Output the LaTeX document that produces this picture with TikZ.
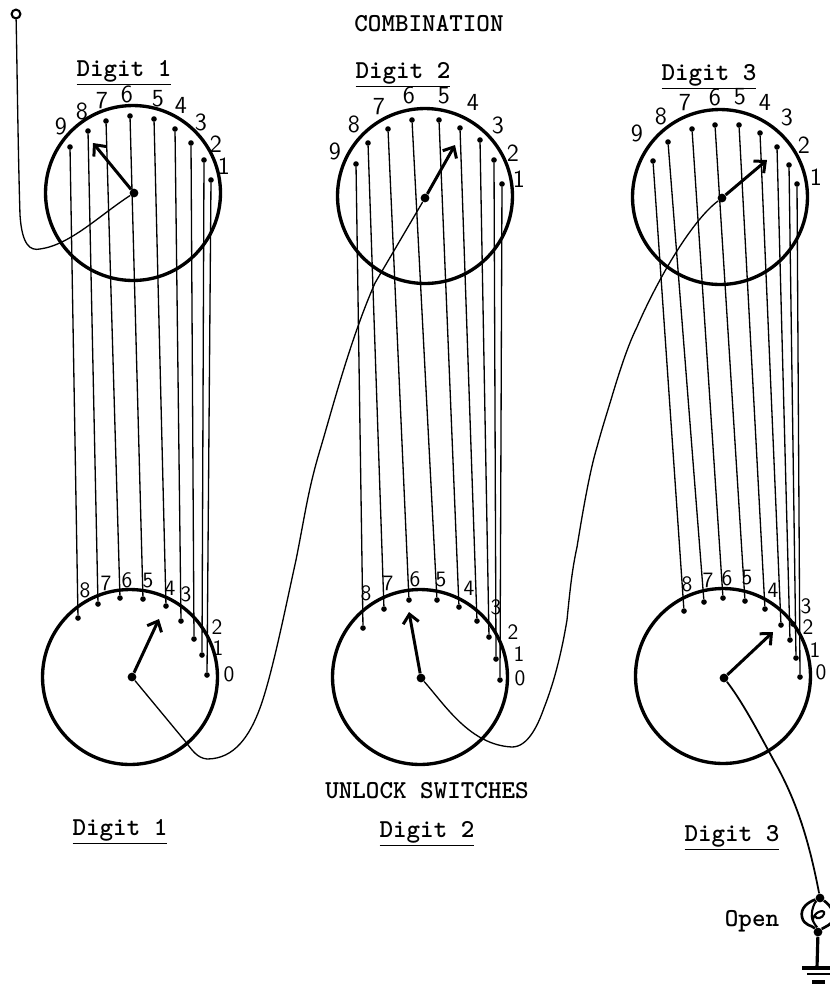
\documentclass[tikz,border=0pt]{standalone}
\usepackage{tikz}
\usetikzlibrary{arrows.meta}
\tikzset{
    dial/.style = {draw, circle, line width = 1.9pt, minimum size = 3.5cm, inner sep = 0pt},
    hub/.style = {fill = black, circle, minimum size = 5pt, inner sep = 0pt},
    contact/.style = {fill = black, circle, minimum size = 3.2pt, inner sep = 0pt},
    wire/.style = {line width = 0.75pt},
    hand/.style = {line width = 1.7pt, -{Straight Barb[length = 5pt, width = 9pt]}},
    digit/.style = {font = \sffamily\fontsize{12.5}{14}\selectfont, inner sep = 0pt},
    bigdigit/.style = {font = \sffamily\fontsize{14}{16}\selectfont, inner sep = 0pt},
    title/.style = {font = \ttfamily\bfseries\fontsize{14.7}{16}\selectfont, inner sep = 0pt}
}

\begin{document}
\begin{tikzpicture}[x = 0.02cm, y = -0.02cm]
    \useasboundingbox (0,0) rectangle (830,985);

    % titles
    \node[title] (combination) at (429, 24) {COMBINATION};
    \node[title] (unlock) at (427, 791) {UNLOCK SWITCHES};
    \node[title] (titleTA) at (124, 73) {\underline{Digit 1}};
    \node[title] (titleTB) at (403, 75) {\underline{Digit 2}};
    \node[title] (titleTC) at (709, 77) {\underline{Digit 3}};
    \node[title] (titleBA) at (120, 832) {\underline{Digit 1}};
    \node[title] (titleBB) at (427, 834) {\underline{Digit 2}};
    \node[title] (titleBC) at (732, 838) {\underline{Digit 3}};
    \node[title] (open) at (752, 921) {Open};

    % dials
    \node[dial] (dialTA) at (133, 193) {};
    \node[dial] (dialTB) at (425, 196) {};
    \node[dial] (dialTC) at (720, 197) {};
    \node[dial] (dialBA) at (130, 677) {};
    \node[dial] (dialBB) at (420, 677) {};
    \node[dial] (dialBC) at (723, 676) {};
    \node[hub] (hubTA) at (134, 193) {};
    \node[hub] (hubTB) at (425, 198) {};
    \node[hub] (hubTC) at (722, 198) {};
    \node[hub] (hubBA) at (132, 677) {};
    \node[hub] (hubBB) at (421, 678) {};
    \node[hub] (hubBC) at (724, 678) {};

    % pointers
    \coordinate (tipTA) at (93, 143);
    \coordinate (tipTB) at (455, 145);
    \coordinate (tipTC) at (767, 160);
    \coordinate (tipBA) at (159, 619);
    \coordinate (tipBB) at (409, 612);
    \coordinate (tipBC) at (773, 632);
    \draw[hand] (hubTA) -- (tipTA);
    \draw[hand] (hubTB) -- (tipTB);
    \draw[hand] (hubTC) -- (tipTC);
    \draw[hand] (hubBA) -- (tipBA);
    \draw[hand] (hubBB) -- (tipBB);
    \draw[hand] (hubBC) -- (tipBC);

    % contacts, combination digit 1
    \node[contact] (tA9) at (70, 147) {};
    \node[contact] (tA8) at (88, 131) {};
    \node[contact] (tA7) at (106, 121) {};
    \node[contact] (tA6) at (130, 116) {};
    \node[contact] (tA5) at (154, 119) {};
    \node[contact] (tA4) at (175, 129) {};
    \node[contact] (tA3) at (191, 143) {};
    \node[contact] (tA2) at (204, 160) {};
    \node[contact] (tA1) at (211, 180) {};
    \node[bigdigit] (ltA9) at (61, 126) {9};
    \node[bigdigit] (ltA8) at (82, 111) {8};
    \node[bigdigit] (ltA7) at (102, 101) {7};
    \node[bigdigit] (ltA6) at (127, 94) {6};
    \node[bigdigit] (ltA5) at (158, 99) {5};
    \node[bigdigit] (ltA4) at (181, 105) {4};
    \node[bigdigit] (ltA3) at (201, 122) {3};
    \node[bigdigit] (ltA2) at (216, 144) {2};
    \node[bigdigit] (ltA1) at (224, 166) {1};

    % contacts, combination digit 2
    \node[contact] (tB9) at (356, 164) {};
    \node[contact] (tB8) at (368, 143) {};
    \node[contact] (tB7) at (388, 129) {};
    \node[contact] (tB6) at (412, 120) {};
    \node[contact] (tB5) at (439, 120) {};
    \node[contact] (tB4) at (460, 128) {};
    \node[contact] (tB3) at (480, 140) {};
    \node[contact] (tB2) at (494, 160) {};
    \node[contact] (tB1) at (502, 184) {};
    \node[bigdigit] (ltB9) at (335, 151) {9};
    \node[bigdigit] (ltB8) at (354, 124) {8};
    \node[bigdigit] (ltB7) at (379, 107) {7};
    \node[bigdigit] (ltB6) at (409, 95) {6};
    \node[bigdigit] (ltB5) at (444, 96) {5};
    \node[bigdigit] (ltB4) at (473, 102) {4};
    \node[bigdigit] (ltB3) at (498, 125) {3};
    \node[bigdigit] (ltB2) at (513, 153) {2};
    \node[bigdigit] (ltB1) at (519, 179) {1};

    % contacts, combination digit 3
    \node[contact] (tC9) at (653, 161) {};
    \node[contact] (tC8) at (668, 142) {};
    \node[contact] (tC7) at (692, 129) {};
    \node[contact] (tC6) at (715, 125) {};
    \node[contact] (tC5) at (739, 125) {};
    \node[contact] (tC4) at (760, 133) {};
    \node[contact] (tC3) at (777, 147) {};
    \node[contact] (tC2) at (789, 165) {};
    \node[contact] (tC1) at (797, 184) {};
    \node[bigdigit] (ltC9) at (637, 133) {9};
    \node[bigdigit] (ltC8) at (661, 116) {8};
    \node[bigdigit] (ltC7) at (685, 103) {7};
    \node[bigdigit] (ltC6) at (715, 97) {6};
    \node[bigdigit] (ltC5) at (740, 97) {5};
    \node[bigdigit] (ltC4) at (765, 102) {4};
    \node[bigdigit] (ltC3) at (787, 117) {3};
    \node[bigdigit] (ltC2) at (804, 145) {2};
    \node[bigdigit] (ltC1) at (816, 177) {1};

    % contacts, unlock digit 1
    \node[contact] (bA8) at (78, 618) {};
    \node[contact] (bA7) at (98, 604) {};
    \node[contact] (bA6) at (120, 598) {};
    \node[contact] (bA5) at (143, 599) {};
    \node[contact] (bA4) at (166, 606) {};
    \node[contact] (bA3) at (181, 621) {};
    \node[contact] (bA2) at (194, 639) {};
    \node[contact] (bA1) at (202, 655) {};
    \node[contact] (bA0) at (207, 675) {};
    \node[digit] (lbA8) at (85, 590) {8};
    \node[digit] (lbA7) at (106, 583) {7};
    \node[digit] (lbA6) at (127, 580) {6};
    \node[digit] (lbA5) at (148, 581) {5};
    \node[digit] (lbA4) at (170, 588) {4};
    \node[digit] (lbA3) at (186, 594) {3};
    \node[digit] (lbA2) at (217, 627) {2};
    \node[digit] (lbA1) at (218, 648) {1};
    \node[digit] (lbA0) at (229, 674) {0};

    % contacts, unlock digit 2
    \node[contact] (bB8) at (363, 628) {};
    \node[contact] (bB7) at (384, 609) {};
    \node[contact] (bB6) at (409, 600) {};
    \node[contact] (bB5) at (437, 600) {};
    \node[contact] (bB4) at (459, 607) {};
    \node[contact] (bB3) at (477, 621) {};
    \node[contact] (bB2) at (489, 637) {};
    \node[contact] (bB1) at (496, 659) {};
    \node[contact] (bB0) at (500, 680) {};
    \node[digit] (lbB8) at (366, 593) {8};
    \node[digit] (lbB7) at (388, 583) {7};
    \node[digit] (lbB6) at (415, 579) {6};
    \node[digit] (lbB5) at (441, 580) {5};
    \node[digit] (lbB4) at (469, 588) {4};
    \node[digit] (lbB3) at (496, 607) {3};
    \node[digit] (lbB2) at (513, 632) {2};
    \node[digit] (lbB1) at (519, 654) {1};
    \node[digit] (lbB0) at (520, 678) {0};

    % contacts, unlock digit 3
    \node[contact] (bC8) at (684, 611) {};
    \node[contact] (bC7) at (704, 602) {};
    \node[contact] (bC6) at (723, 598) {};
    \node[contact] (bC5) at (745, 601) {};
    \node[contact] (bC4) at (765, 609) {};
    \node[contact] (bC3) at (781, 625) {};
    \node[contact] (bCx) at (793, 624) {};
    \node[contact] (bC2) at (790, 640) {};
    \node[contact] (bC1) at (796, 658) {};
    \node[contact] (bC0) at (800, 677) {};
    \node[digit] (lbC8) at (687, 584) {8};
    \node[digit] (lbC7) at (708, 580) {7};
    \node[digit] (lbC6) at (727, 578) {6};
    \node[digit] (lbC5) at (747, 578) {5};
    \node[digit] (lbC4) at (773, 590) {4};
    \node[digit] (lbC3) at (806, 606) {3};
    \node[digit] (lbC2) at (808, 627) {2};
    \node[digit] (lbC1) at (815, 650) {1};
    \node[digit] (lbC0) at (821, 672) {0};

    % wires between the dials
    \draw[wire] (tA9) -- (bA8);
    \draw[wire] (tA8) -- (bA7);
    \draw[wire] (tA7) -- (bA6);
    \draw[wire] (tA6) -- (bA5);
    \draw[wire] (tA5) -- (bA4);
    \draw[wire] (tA4) -- (bA3);
    \draw[wire] (tA3) -- (bA2);
    \draw[wire] (tA2) -- (bA1);
    \draw[wire] (tA1) -- (bA0);
    \draw[wire] (tB9) -- (bB8);
    \draw[wire] (tB8) -- (bB7);
    \draw[wire] (tB7) -- (bB6);
    \draw[wire] (tB6) -- (bB5);
    \draw[wire] (tB5) -- (bB4);
    \draw[wire] (tB4) -- (bB3);
    \draw[wire] (tB3) -- (bB2);
    \draw[wire] (tB2) -- (bB1);
    \draw[wire] (tB1) -- (bB0);
    \draw[wire] (tC9) -- (bC8);
    \draw[wire] (tC8) -- (bC7);
    \draw[wire] (tC7) -- (bC6);
    \draw[wire] (tC6) -- (bC5);
    \draw[wire] (tC5) -- (bC4);
    \draw[wire] (tC4) -- (bC3);
    \draw[wire] (tC3) -- (bC2);
    \draw[wire] (tC2) -- (bC1);
    \draw[wire] (tC1) -- (bC0);

    % series line from the terminal to the lamp
    \node[draw, circle, line width = 1.2pt, minimum size = 5pt, inner sep = 0pt] (terminal) at (16, 14) {};
    \draw[wire] (terminal) .. controls (17, 60) and (18, 150) .. (20, 215)
        .. controls (22, 245) and (30, 251) .. (40, 249)
        .. controls (70, 245) and (100, 215) .. (hubTA);
    \draw[wire] (hubBA) -- (185, 741) .. controls (192, 750) and (197, 758) .. (207, 759)
        .. controls (235, 759) and (250, 735) .. (260, 708)
        .. controls (272, 675) and (285, 610) .. (296, 560)
        .. controls (305, 515) and (308, 490) .. (320, 450)
        .. controls (332, 410) and (350, 340) .. (375, 283) -- (hubTB);
    \draw[wire] (hubBB) .. controls (445, 705) and (470, 745) .. (512, 747)
        .. controls (528, 747) and (538, 725) .. (544, 708)
        .. controls (555, 680) and (562, 650) .. (567, 620)
        .. controls (570, 590) and (572, 570) .. (577, 547)
        .. controls (583, 510) and (590, 470) .. (597, 447)
        .. controls (603, 425) and (608, 410) .. (613, 393)
        .. controls (620, 370) and (628, 345) .. (637, 327)
        .. controls (655, 285) and (690, 222) .. (hubTC);
    \node[hub] (lampTop) at (820, 898) {};
    \node[hub] (lampBot) at (818, 932) {};
    \draw[wire, line width = 1pt] (hubBC) .. controls (745, 705) and (765, 745) .. (778, 768)
        .. controls (795, 800) and (808, 835) .. (lampTop);

    % lamp and ground
    \draw[line width = 1.5pt] (lampTop) .. controls (808, 902) and (800, 908) .. (802, 917)
        .. controls (804, 926) and (812, 925) .. (lampBot);
    \draw[line width = 1.5pt] (lampTop) .. controls (826, 902) and (833, 908) .. (834, 915)
        .. controls (834, 925) and (824, 927) .. (lampBot);
    \draw[line width = 1.2pt] (lampTop) .. controls (813, 904) and (810, 916) .. (813, 921)
        .. controls (815, 925) and (817, 927) .. (lampBot);
    \draw[line width = 1.2pt] (813, 921) .. controls (812, 912) and (826, 908) .. (824, 914)
        .. controls (823, 918) and (816, 920) .. (815, 916);
    \coordinate (gndTop) at (817, 968);
    \coordinate (barAl) at (802, 968);
    \coordinate (barAr) at (830, 968);
    \coordinate (barBl) at (807, 974);
    \coordinate (barBr) at (830, 974);
    \coordinate (barCl) at (812, 982);
    \coordinate (barCr) at (825, 982);
    \draw[line width = 1.8pt] (lampBot) -- (gndTop);
    \draw[line width = 1.8pt] (barAl) -- (barAr);
    \draw[line width = 1.4pt] (barBl) -- (barBr);
    \draw[line width = 1.8pt] (barCl) -- (barCr);
\end{tikzpicture}
\end{document}
